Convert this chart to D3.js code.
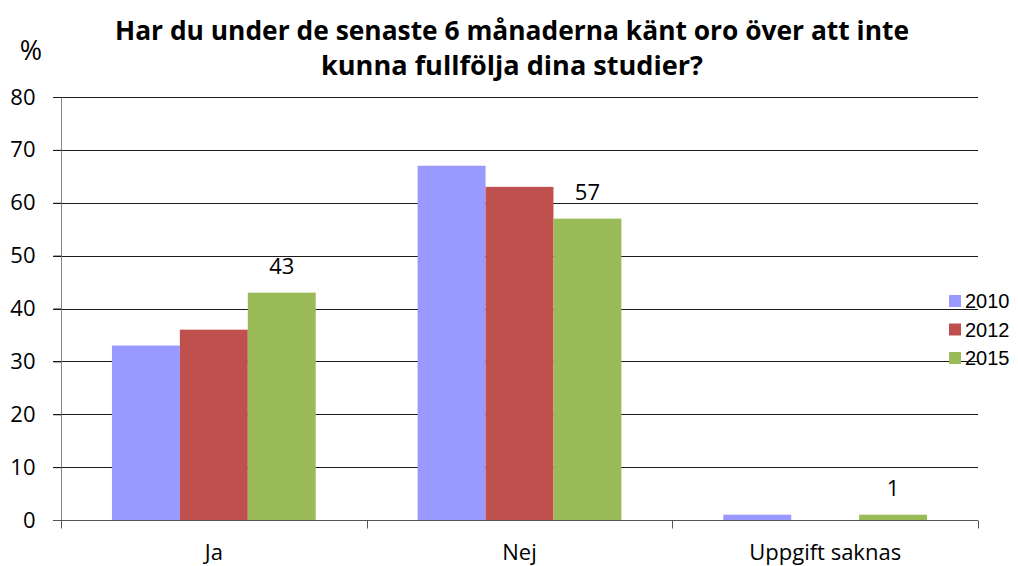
<!DOCTYPE html>
<html>
<head>
<meta charset="utf-8">
<script src="https://cdn.jsdelivr.net/npm/d3@7"></script>
<style>
  body { margin: 0; background: #fff; }
  svg text { fill: #000; }
</style>
</head>
<body>
<script>
(function () {

  let categories = ['Ja', 'Nej', 'Uppgift saknas'];
  let years      = ['2010', '2012', '2015'];
  let values2010 = [33, 67, 1];
  let values2012 = [36, 63, 0];
  let values2015 = [43, 57, 1];
  let yTicks     = [0, 10, 20, 30, 40, 50, 60, 70, 80];
  let colors     = ['#9999ff', '#c0504d', '#9bbb59'];
  let titleLines = ['Har du under de senaste 6 månaderna känt oro över att inte',
                    'kunna fullfölja dina studier?'];

  let series = [values2010, values2012, values2015];

  let width  = 1018;
  let height = 566;
  let plot   = { left: 61, right: 978, top: 97, bottom: 520 };
  let font   = 'Open Sans';

  let svg = d3.select('body').append('svg')
      .attr('width', width)
      .attr('height', height);

  let x = d3.scaleBand().domain(categories).range([plot.left, plot.right]);
  let inner = d3.scaleBand().domain(years).range([x.bandwidth() / 6, x.bandwidth() * 5 / 6]);
  let y = d3.scaleLinear().domain([0, 80]).range([plot.bottom, plot.top]);

  // gridlines
  svg.append('g').selectAll('line').data(yTicks.slice(1)).enter().append('line')
    .attr('x1', plot.left - 8).attr('x2', plot.right)
    .attr('y1', d => Math.round(y(d)) + 0.5).attr('y2', d => Math.round(y(d)) + 0.5)
    .attr('stroke', '#1a1a1a').attr('stroke-width', 1);

  // bars
  categories.forEach(function (cat, ci) {
    let g = svg.append('g').attr('transform', 'translate(' + x(cat) + ',0)');
    years.forEach(function (yr, si) {
      let v = series[si][ci];
      if (v <= 0) return;
      g.append('rect')
        .attr('x', inner(yr))
        .attr('y', y(v))
        .attr('width', inner.bandwidth())
        .attr('height', y(0) - y(v))
        .attr('fill', colors[si]);
    });
    // data labels, only the 2015 series
    let v15 = values2015[ci];
    g.append('text')
      .attr('x', inner('2015') + inner.bandwidth() / 2)
      .attr('y', y(v15) - 19)
      .attr('text-anchor', 'middle')
      .style('font-family', font)
      .style('font-size', '22px')
      .text(v15);
  });

  // y axis
  let yAxis = d3.axisLeft(y).tickValues(yTicks).tickSize(8).tickPadding(18);
  let ya = svg.append('g').attr('transform', 'translate(' + (plot.left + 0.5) + ',0)').call(yAxis);
  ya.select('.domain').attr('stroke', '#868686').attr('d', 'M0,' + plot.top + 'V' + (plot.bottom + 8));
  ya.selectAll('.tick line').attr('stroke', '#1a1a1a');
  ya.selectAll('.tick text').style('font-family', font).style('font-size', '22px').attr('fill', '#000');

  // x axis
  let xAxis = d3.axisBottom(x).tickSize(0).tickPadding(24);
  let xa = svg.append('g').attr('transform', 'translate(0,' + (plot.bottom + 0.5) + ')').call(xAxis);
  xa.select('.domain').attr('stroke', '#555').attr('d', 'M' + (plot.left - 8) + ',0H' + plot.right);
  xa.selectAll('.tick text').style('font-family', font).style('font-size', '22px').attr('fill', '#000');
  let sep = [0, 1, 2, 3].map(i => plot.left + i * x.bandwidth());
  xa.append('g').selectAll('line').data(sep).enter().append('line')
    .attr('x1', d => Math.round(d) + 0.5).attr('x2', d => Math.round(d) + 0.5)
    .attr('y1', 0).attr('y2', 8)
    .attr('stroke', '#555');

  // title
  svg.append('g').selectAll('text').data(titleLines).enter().append('text')
    .attr('x', 512)
    .attr('y', (d, i) => 40 + i * 35)
    .attr('text-anchor', 'middle')
    .style('font-family', font)
    .style('font-weight', 'bold')
    .style('font-size', '27px')
    .attr('textLength', (d, i) => i === 0 ? 794 : 382)
    .attr('lengthAdjust', 'spacingAndGlyphs')
    .text(d => d);

  svg.append('text')
    .attr('x', 31).attr('y', 60)
    .attr('text-anchor', 'middle')
    .style('font-family', font)
    .style('font-size', '27px')
    .text('%');

  // legend
  let legend = svg.append('g').selectAll('g').data(years).enter().append('g')
    .attr('transform', (d, i) => 'translate(949,' + (295 + i * 28.5) + ')');
  legend.append('rect')
    .attr('width', 12).attr('height', 12)
    .attr('fill', (d, i) => colors[i]);
  legend.append('text')
    .attr('x', 16).attr('y', 13)
    .style('font-family', 'Liberation Sans')
    .style('font-size', '20px')
    .text(d => d);

})();
</script>
</body>
</html>
